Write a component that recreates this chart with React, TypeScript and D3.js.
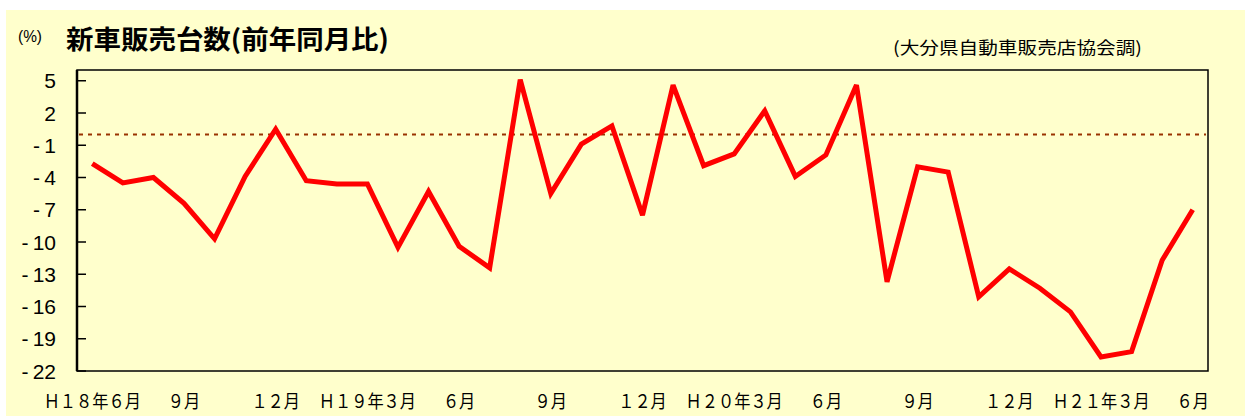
import React from "react";
import * as d3 from "d3";

const months: string[] = [
  "H18-06","H18-07","H18-08","H18-09","H18-10","H18-11","H18-12",
  "H19-01","H19-02","H19-03","H19-04","H19-05","H19-06","H19-07","H19-08","H19-09","H19-10","H19-11","H19-12",
  "H20-01","H20-02","H20-03","H20-04","H20-05","H20-06","H20-07","H20-08","H20-09","H20-10","H20-11","H20-12",
  "H21-01","H21-02","H21-03","H21-04","H21-05","H21-06",
];

const values: number[] = [
  -2.7, -4.5, -4.0, -6.4, -9.7, -3.9, 0.5,
  -4.3, -4.6, -4.6, -10.5, -5.3, -10.4, -12.4, 5.1, -5.5, -0.9, 0.8, -7.5,
  4.6, -2.9, -1.8, 2.2, -3.9, -1.9, 4.6, -13.7, -3.0, -3.5, -15.1, -12.5,
  -14.3, -16.5, -20.7, -20.2, -11.7, -7.0,
];

const xLabels: { index: number; label: string }[] = [
  { index: 0, label: "Ｈ１８年６月" },
  { index: 3, label: "９月" },
  { index: 6, label: "１２月" },
  { index: 9, label: "Ｈ１９年３月" },
  { index: 12, label: "６月" },
  { index: 15, label: "９月" },
  { index: 18, label: "１２月" },
  { index: 21, label: "Ｈ２０年３月" },
  { index: 24, label: "６月" },
  { index: 27, label: "９月" },
  { index: 30, label: "１２月" },
  { index: 33, label: "Ｈ２１年３月" },
  { index: 36, label: "６月" },
];

const yTicks: number[] = [5, 2, -1, -4, -7, -10, -13, -16, -19, -22];

const title = "新車販売台数(前年同月比)";
const source = "(大分県自動車販売店協会調)";
const unit = "(%)";

export default function App() {
  const W = 1245;
  const H = 416;
  const left = 77;
  const right = 1208;
  const top = 70;
  const bottom = 371;

  const x = d3.scaleBand<string>().domain(months).range([left, right]);
  const cx = (i: number) => (x(months[i]) as number) + x.bandwidth() / 2;
  const y = d3.scaleLinear().domain([-22, 6]).range([bottom, top]);

  const line = d3
    .line<number>()
    .x((_, i) => cx(i))
    .y((d) => y(d));

  const jp = '"Noto Sans CJK JP", "Noto Sans", sans-serif';
  const sans = '"Liberation Sans", Arial, sans-serif';

  return (
    <div style={{ position: "absolute", left: 0, top: 0 }}>
      <svg width={W} height={H} style={{ display: "block" }}>
        <rect x={0} y={0} width={W} height={H} fill="#ffffff" />
        <rect x={6} y={10} width={W - 6} height={H - 10} fill="#FFFFCC" />

        <text
          x={18}
          y={42}
          fontFamily={sans}
          fontSize={16}
          fill="#000"
          textLength={24}
          lengthAdjust="spacingAndGlyphs"
        >
          {unit}
        </text>
        <text
          x={66}
          y={49}
          fontFamily={jp}
          fontSize={26}
          fontWeight="bold"
          fill="#000"
          textLength={323}
          lengthAdjust="spacingAndGlyphs"
        >
          {title}
        </text>
        <text
          x={893}
          y={54}
          fontFamily={jp}
          fontSize={17}
          fill="#000"
          textLength={249}
          lengthAdjust="spacingAndGlyphs"
        >
          {source}
        </text>

        {/* plot frame */}
        <rect
          x={left}
          y={top}
          width={right - left}
          height={bottom - top}
          fill="#FFFFCC"
          stroke="#000"
          strokeWidth={1.5}
        />
        <line x1={left} x2={left} y1={top} y2={bottom} stroke="#000" strokeWidth={2.5} />

        {/* y ticks */}
        {yTicks.map((t) => (
          <g key={t}>
            <line x1={left} x2={left + 9} y1={y(t)} y2={y(t)} stroke="#000" strokeWidth={1.5} />
            <text
              x={56}
              y={y(t) + 7.5}
              textAnchor="end"
              fontFamily={sans}
              fontSize={21}
              fill="#000"
            >
              {t < 0 ? "-\u2009" + Math.abs(t) : String(t)}
            </text>
          </g>
        ))}

        {/* zero reference */}
        <line
          x1={left + 2}
          x2={right - 2}
          y1={y(0)}
          y2={y(0)}
          stroke="#993300"
          strokeWidth={2}
          strokeDasharray="4,5"
        />

        <path
          d={line(values) || ""}
          fill="none"
          stroke="#FF0000"
          strokeWidth={5}
          strokeLinejoin="miter"
          strokeMiterlimit={3}
        />

        {xLabels.map((l) => {
          const n = Array.from(l.label).length;
          const w = n * 16.2;
          return (
            <text
              key={l.index}
              x={cx(l.index) - w / 2}
              y={408}
              fontFamily={jp}
              fontSize={18}
              fill="#000"
              textLength={w}
              lengthAdjust="spacingAndGlyphs"
            >
              {l.label}
            </text>
          );
        })}
      </svg>
    </div>
  );
}
